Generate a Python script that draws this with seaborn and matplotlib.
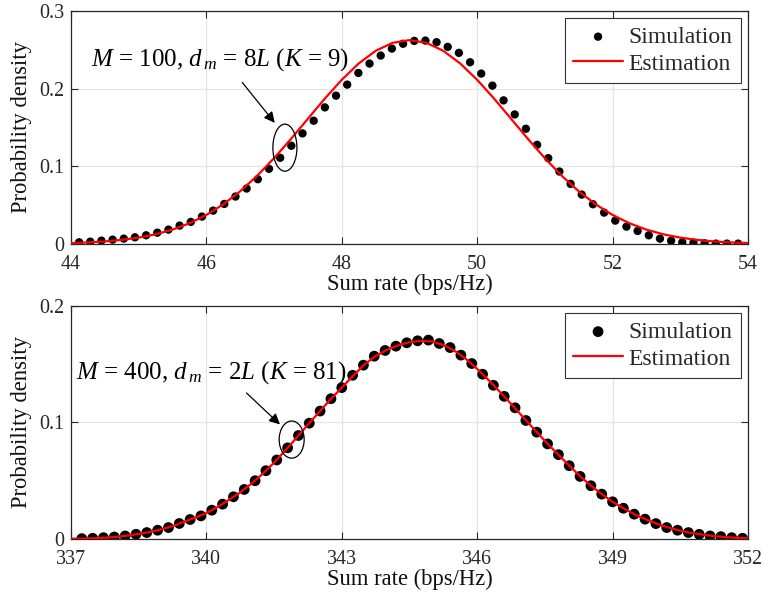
import numpy as np
import pandas as pd
import matplotlib
matplotlib.use("Agg")
import matplotlib.pyplot as plt
from matplotlib.patches import Ellipse
import seaborn as sns

# ---------------- data ----------------
# Top panel: M = 100, d_m = 8L (K = 9)
top_sim_x0, top_sim_dx = 44.12, 0.165
top_sim_y = [0.0022, 0.0030, 0.0043, 0.0056, 0.0069, 0.0086, 0.0112, 0.0146, 0.0185, 0.0237,
             0.0284, 0.0353, 0.0430, 0.0516, 0.0611, 0.0714, 0.0834, 0.0968, 0.1110, 0.1265,
             0.1424, 0.1587, 0.1759, 0.1910, 0.2052, 0.2202, 0.2323, 0.2426, 0.2516, 0.2578,
             0.2615, 0.2619, 0.2598, 0.2538, 0.2461, 0.2340, 0.2194, 0.2039, 0.1849, 0.1668,
             0.1484, 0.1277, 0.1105, 0.0933, 0.0774, 0.0636, 0.0512, 0.0404, 0.0301, 0.0224,
             0.0168, 0.0112, 0.0069, 0.0043, 0.0022, 0.0017, 0.0009, 0.0005, 0.0005, 0.0005]
top_sim_x = [round(top_sim_x0 + i * top_sim_dx, 3) for i in range(len(top_sim_y))]

top_est_x = [44.00, 44.25, 44.50, 44.75, 45.00, 45.25, 45.50, 45.75, 46.00, 46.25,
             46.50, 46.75, 47.00, 47.25, 47.50, 47.75, 48.00, 48.25, 48.50, 48.75,
             49.00, 49.25, 49.50, 49.75, 50.00, 50.25, 50.50, 50.75, 51.00, 51.25,
             51.50, 51.75, 52.00, 52.25, 52.50, 52.75, 53.00, 53.25, 53.50, 53.75, 54.00]
top_est_y = [0.0012, 0.0020, 0.0033, 0.0053, 0.0082, 0.0125, 0.0185, 0.0267, 0.0374, 0.0511,
             0.0679, 0.0878, 0.1105, 0.1353, 0.1613, 0.1872, 0.2114, 0.2324, 0.2487, 0.2590,
             0.2625, 0.2590, 0.2487, 0.2324, 0.2114, 0.1872, 0.1613, 0.1353, 0.1105, 0.0878,
             0.0679, 0.0511, 0.0374, 0.0267, 0.0185, 0.0125, 0.0082, 0.0053, 0.0033, 0.0020, 0.0012]

# Bottom panel: M = 400, d_m = 2L (K = 81)
bot_sim_x0, bot_sim_dx = 337.24, 0.24
bot_sim_y = [0.0003, 0.0006, 0.0011, 0.0017, 0.0026, 0.0040, 0.0055, 0.0075, 0.0098, 0.0133,
             0.0167, 0.0198, 0.0247, 0.0299, 0.0362, 0.0425, 0.0500, 0.0586, 0.0678, 0.0782,
             0.0888, 0.0994, 0.1098, 0.1204, 0.1299, 0.1405, 0.1492, 0.1569, 0.1618, 0.1655,
             0.1684, 0.1701, 0.1707, 0.1678, 0.1643, 0.1578, 0.1506, 0.1414, 0.1319, 0.1224,
             0.1126, 0.1017, 0.0917, 0.0816, 0.0724, 0.0629, 0.0537, 0.0457, 0.0385, 0.0319,
             0.0264, 0.0213, 0.0170, 0.0132, 0.0098, 0.0075, 0.0055, 0.0040, 0.0026, 0.0020,
             0.0011, 0.0006]
bot_sim_x = [round(bot_sim_x0 + i * bot_sim_dx, 3) for i in range(len(bot_sim_y))]

bot_est_x = [337.00, 337.25, 337.50, 337.75, 338.00, 338.25, 338.50, 338.75, 339.00, 339.25,
             339.50, 339.75, 340.00, 340.25, 340.50, 340.75, 341.00, 341.25, 341.50, 341.75,
             342.00, 342.25, 342.50, 342.75, 343.00, 343.25, 343.50, 343.75, 344.00, 344.25,
             344.50, 344.75, 345.00, 345.25, 345.50, 345.75, 346.00, 346.25, 346.50, 346.75,
             347.00, 347.25, 347.50, 347.75, 348.00, 348.25, 348.50, 348.75, 349.00, 349.25,
             349.50, 349.75, 350.00, 350.25, 350.50, 350.75, 351.00, 351.25, 351.50, 351.75, 352.00]
bot_est_y = [0.0002, 0.0003, 0.0006, 0.0011, 0.0018, 0.0029, 0.0043, 0.0060, 0.0082, 0.0110,
             0.0147, 0.0183, 0.0222, 0.0275, 0.0336, 0.0400, 0.0475, 0.0560, 0.0655, 0.0760,
             0.0870, 0.0980, 0.1090, 0.1198, 0.1299, 0.1400, 0.1497, 0.1570, 0.1624, 0.1662,
             0.1689, 0.1700, 0.1695, 0.1665, 0.1616, 0.1545, 0.1460, 0.1365, 0.1264, 0.1160,
             0.1053, 0.0947, 0.0842, 0.0742, 0.0645, 0.0550, 0.0464, 0.0388, 0.0319, 0.0262,
             0.0209, 0.0165, 0.0128, 0.0097, 0.0071, 0.0052, 0.0037, 0.0025, 0.0016, 0.0010, 0.0006]

top_xticks = [44, 46, 48, 50, 52, 54]
top_yticks = [0, 0.1, 0.2, 0.3]
top_yticklabels = ["0", "0.1", "0.2", "0.3"]
bot_xticks = [337, 340, 343, 346, 349, 352]
bot_yticks = [0, 0.1, 0.2]
bot_yticklabels = ["0", "0.1", "0.2"]

top_note = r"$M$ = 100, $d_{\,m}$ = 8$L$ ($K$ = 9)"
bot_note = r"$M$ = 400, $d_{\,m}$ = 2$L$ ($K$ = 81)"
xlabel = "Sum rate (bps/Hz)"
ylabel = "Probability density"
legend_labels = ["Simulation", "Estimation"]

# ---------------- style ----------------
sns.set_theme(style="white")
plt.rcParams["font.family"] = ["Liberation Serif", "DejaVu Serif"]
plt.rcParams["mathtext.fontset"] = "custom"
plt.rcParams["mathtext.rm"] = "Liberation Serif"
plt.rcParams["mathtext.it"] = "Liberation Serif:italic"
plt.rcParams["axes.unicode_minus"] = False

fig = plt.figure(figsize=(7.64, 5.97), dpi=100)
ax1 = fig.add_axes([0.0929, 0.5913, 0.8861, 0.3903])
ax2 = fig.add_axes([0.0929, 0.0972, 0.8861, 0.3903])

panels = [
    (ax1, top_sim_x, top_sim_y, top_est_x, top_est_y, (44, 54), (0, 0.3),
     top_xticks, top_yticks, top_yticklabels, top_note, 36,
     dict(text=(46.2, 0.237), tail=(46.53, 0.208), head=(47.01, 0.156),
          ell=(47.16, 0.124), ew=0.355, eh=0.0606)),
    (ax2, bot_sim_x, bot_sim_y, bot_est_x, bot_est_y, (337, 352), (0, 0.2),
     bot_xticks, bot_yticks, bot_yticklabels, bot_note, 60,
     dict(text=(340.10, 0.143), tail=(340.89, 0.1253), head=(341.63, 0.0983),
          ell=(341.89, 0.0853), ew=0.554, eh=0.0319)),
]

for (ax, sx, sy, ex, ey, xlim, ylim, xt, yt, ytl, note, msize, ann) in panels:
    sim_df = pd.DataFrame({"x": sx, "y": sy})
    est_df = pd.DataFrame({"x": ex, "y": ey})
    sns.scatterplot(data=sim_df, x="x", y="y", ax=ax, color="black", s=msize,
                    edgecolor="none", label=legend_labels[0], zorder=3)
    sns.lineplot(data=est_df, x="x", y="y", ax=ax, color="#ff0000", linewidth=1.6,
                 label=legend_labels[1], zorder=4, sort=False)
    ax.set_xlim(*xlim)
    ax.set_ylim(*ylim)
    ax.set_xticks(xt)
    ax.set_xticklabels([str(v) for v in xt])
    ax.set_yticks(yt)
    ax.set_yticklabels(ytl)
    ax.grid(True, color="#e3e3e3", linewidth=0.8)
    ax.set_axisbelow(True)
    for sp in ax.spines.values():
        sp.set_color("#262626")
        sp.set_linewidth(0.9)
    ax.tick_params(direction="in", length=5, width=0.8, colors="#262626",
                   top=True, right=True, bottom=True, left=True,
                   labelsize=14.4)
    ax.tick_params(axis="x", pad=8)
    ax.tick_params(axis="y", pad=5)
    ax.set_xlabel(xlabel, fontsize=16.3, labelpad=0, color="#111111")
    ax.set_ylabel(ylabel, fontsize=16.3, color="#111111")
    ax.yaxis.set_label_coords(-0.058, 0.5)
    leg = ax.legend(loc="upper right", fontsize=17, frameon=True, fancybox=False,
                    edgecolor="#333333", framealpha=1, borderpad=0.35,
                    handlelength=2.1, handletextpad=0.25, labelspacing=0.22,
                    borderaxespad=0.3, markerscale=1.0)
    leg.get_frame().set_linewidth(0.8)
    ax.text(ann["text"][0], ann["text"][1], note, fontsize=18, ha="center",
            va="center", color="black", zorder=6)
    ax.annotate("", xy=ann["head"], xytext=ann["tail"],
                arrowprops=dict(arrowstyle="-|>", color="black", lw=0.9,
                                mutation_scale=16, shrinkA=0, shrinkB=0), zorder=6)
    ax.add_patch(Ellipse(ann["ell"], ann["ew"], ann["eh"], fill=False,
                         edgecolor="black", linewidth=0.9, zorder=6))

fig.savefig("out.png", dpi=100)
